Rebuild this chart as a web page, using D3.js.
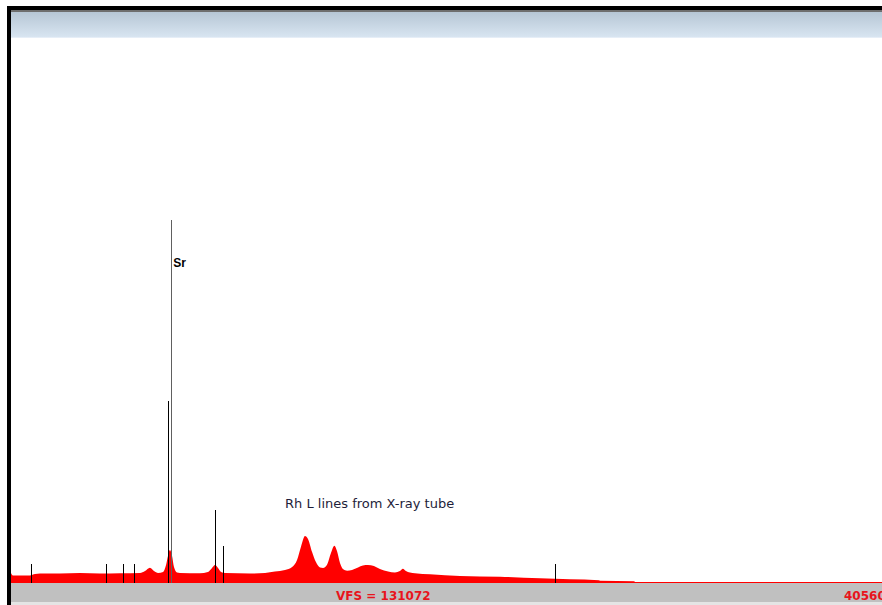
<!DOCTYPE html>
<html>
<head>
<meta charset="utf-8">
<script src="https://cdn.jsdelivr.net/npm/d3@7"></script>
<style>
  html, body { margin: 0; padding: 0; background: #fff; }
  svg { display: block; }
</style>
</head>
<body>
<svg id="chart" width="882" height="605"></svg>
<script>
// spectrum outline (energy in keV, counts)
const energyKeV = [0.00, 0.09, 0.88, 1.12, 1.35, 2.28, 3.21, 4.14, 5.08, 6.01, 6.24, 6.47, 6.66, 6.85,
  7.08, 7.22, 7.31, 7.40, 7.50, 7.59, 7.73, 7.87, 8.80, 9.17, 9.36, 9.50, 9.64, 9.78, 9.97,
  11.13, 11.83, 12.29, 12.76, 13.09, 13.32, 13.50, 13.69, 13.83, 14.02, 14.20, 14.39, 14.53,
  14.71, 14.90, 15.06, 15.18, 15.32, 15.46, 15.65, 15.88, 16.16, 16.39, 16.62, 16.90, 17.18,
  17.56, 17.88, 18.11, 18.25, 18.39, 18.58, 18.81, 19.51, 20.91, 22.77, 24.63, 26.03, 27.38,
  27.43, 29.01, 29.06, 40.56];
const counts = [2560, 1920, 1920, 2304, 2432, 2432, 2560, 2432, 2483, 2560, 3072, 3917, 3072, 2560,
  2816, 4608, 6912, 8448, 6912, 4096, 2688, 2560, 2483, 2816, 3840, 4608, 3840, 2816, 2560,
  2432, 2560, 2944, 3328, 4096, 5888, 9216, 12032, 11264, 7936, 5376, 3968, 3840,
  4608, 7680, 9549, 8192, 5120, 3584, 3149, 3328, 3968, 4480, 4608, 4352, 3584,
  2944, 2688, 3072, 3661, 3072, 2688, 2483, 2227, 1792, 1613, 1203, 947, 717,
  563, 435, 256, 256];

// element marker lines
const markerKeV = [0.93, 4.42, 5.22, 5.73, 7.33, 7.45, 9.50, 9.85, 25.31];
const markerCounts = [4864, 4864, 4864, 4864, 46592, 92928, 18688, 9472, 4864];
const markerColors = ["#000", "#000", "#000", "#000", "#000", "#606060", "#000", "#000", "#000"];

// annotations
const labelText = ["Sr", "Rh L lines from X-ray tube"];
const labelKeV = [7.55, 12.76];
const labelCounts = [80896, 19200];

const vfsValue = 131072;
const cursorValue = "40560";

const CONFIG = {
  width: 882,
  height: 605,
  plotLeft: 11,
  plotRight: 882,
  baseline: 583,
  fullScaleY: 71
};

const svg = d3.select("#chart");

// frame: header strip, left border, status bar
const defs = svg.append("defs");
const grad = defs.append("linearGradient")
  .attr("id", "hdr").attr("x1", 0).attr("y1", 0).attr("x2", 0).attr("y2", 1);
grad.append("stop").attr("offset", "0%").attr("stop-color", "#b6c6d5");
grad.append("stop").attr("offset", "100%").attr("stop-color", "#d8e5f1");

svg.append("rect").attr("x", 7).attr("y", 6).attr("width", 875).attr("height", 4).attr("fill", "#000");
svg.append("rect").attr("x", 11).attr("y", 10).attr("width", 871).attr("height", 2).attr("fill", "#6e6e6e");
svg.append("rect").attr("x", 11).attr("y", 12).attr("width", 871).attr("height", 25).attr("fill", "url(#hdr)");
svg.append("rect").attr("x", 11).attr("y", 37).attr("width", 871).attr("height", 1).attr("fill", "#e6eef7");

svg.append("rect").attr("x", 11).attr("y", CONFIG.baseline).attr("width", 871).attr("height", 19).attr("fill", "#c0c0c0");
svg.append("rect").attr("x", 11).attr("y", CONFIG.baseline + 19).attr("width", 871).attr("height", 3).attr("fill", "#e4e4e4");

// scales
const x = d3.scaleLinear().domain([0, 40.56]).range([CONFIG.plotLeft, CONFIG.plotRight]);
const y = d3.scaleLinear().domain([0, vfsValue]).range([CONFIG.baseline, CONFIG.fullScaleY]);

const spectrum = energyKeV.map((e, i) => ({ e, c: counts[i] }));

const area = d3.area()
  .x(d => x(d.e))
  .y0(y(0))
  .y1(d => y(d.c))
  .curve(d3.curveMonotoneX);

svg.append("path")
  .datum(spectrum)
  .attr("d", area)
  .attr("fill", "#ff0000");

// marker lines
const markers = markerKeV.map((e, i) => ({ e, c: markerCounts[i], color: markerColors[i] }));
svg.append("g")
  .selectAll("line")
  .data(markers)
  .enter()
  .append("line")
  .attr("x1", d => Math.round(x(d.e)) + 0.5)
  .attr("x2", d => Math.round(x(d.e)) + 0.5)
  .attr("y1", y(0))
  .attr("y2", d => y(d.c))
  .attr("stroke", d => d.color)
  .attr("stroke-width", 1);

// labels
svg.append("text")
  .attr("x", x(labelKeV[0]))
  .attr("y", y(labelCounts[0]))
  .style("font-family", "'Liberation Sans', Arial, sans-serif")
  .style("font-size", "12px")
  .style("font-weight", "bold")
  .attr("fill", "#000")
  .text(labelText[0]);

svg.append("text")
  .attr("x", x(labelKeV[1]))
  .attr("y", y(labelCounts[1]))
  .style("font-family", "'DejaVu Sans', sans-serif")
  .style("font-size", "13px")
  .attr("fill", "#1e1e3a")
  .text(labelText[1]);

// status bar texts
svg.append("text")
  .attr("x", 336)
  .attr("y", 600)
  .style("font-family", "'DejaVu Sans', sans-serif")
  .style("font-size", "12px")
  .style("font-weight", "bold")
  .attr("fill", "#e8141c")
  .text("VFS = " + vfsValue);

svg.append("text")
  .attr("x", 844)
  .attr("y", 600)
  .style("font-family", "'DejaVu Sans', sans-serif")
  .style("font-size", "12px")
  .style("font-weight", "bold")
  .attr("fill", "#e8141c")
  .text(cursorValue);

// left border drawn last so it sits on top
svg.append("rect").attr("x", 7).attr("y", 6).attr("width", 4).attr("height", 599).attr("fill", "#000");
</script>
</body>
</html>
